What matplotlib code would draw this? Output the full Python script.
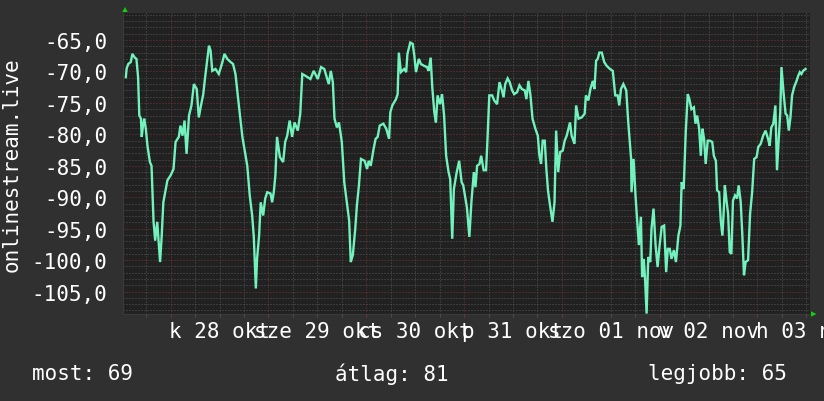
import matplotlib
matplotlib.use("Agg")
import matplotlib.pyplot as plt
from matplotlib.patches import Polygon
from matplotlib.ticker import MultipleLocator, FixedLocator
import numpy as np

# ---- data (hours since 28 Oct 00:00, signal level) ----
hours = [
    -11.0, -10.8, -10.4, -9.8, -9.4, -8.8, -8.4, -8.0, -7.7, -7.3, -7.1, -6.8, -6.5, -6.1, -5.7, -5.1, -4.7,
    -4.2, -3.8, -3.3, -2.6, -2.2, -1.8, -1.2, -0.8, 0.0, 0.7, 1.2, 2.0, 2.4, 2.9, 3.4, 3.9, 4.5, 5.1, 5.7,
    6.4, 6.9, 7.5, 8.0, 8.4, 8.8, 9.4, 9.8, 10.2, 11.0, 11.8, 12.2, 12.7, 13.2, 13.9, 14.7, 15.3, 15.9, 16.7,
    17.6, 18.4, 18.8, 19.4, 20.0, 20.4, 20.9, 21.2, 21.7, 22.1, 22.7, 23.2, 23.7, 24.5, 24.9, 25.3, 25.7,
    26.1, 26.8, 27.6, 28.1, 28.6, 29.2, 29.8, 30.4, 31.2, 31.8, 32.3, 33.1, 34.3, 35.1, 36.1, 36.9, 37.7,
    38.8, 39.3, 39.8, 40.2, 40.8, 41.3, 42.0, 42.6, 43.1, 43.8, 44.2, 44.7, 45.3, 45.7, 46.2, 46.7, 47.6,
    48.2, 48.6, 49.1, 49.8, 50.3, 50.8, 51.3, 52.2, 52.9, 53.6, 53.9, 54.4, 55.3, 55.7, 56.0, 56.5, 57.3,
    57.8, 58.1, 58.8, 59.4, 59.8, 60.2, 60.9, 61.4, 62.2, 62.9, 63.3, 63.8, 64.2, 64.7, 65.1, 65.5, 66.1,
    66.6, 67.1, 67.6, 68.2, 68.6, 69.1, 69.5, 70.2, 70.8, 71.4, 71.8, 72.7, 73.3,
    73.8, 74.4, 74.8, 75.2, 75.8, 76.2, 76.8, 77.4, 77.7, 78.2, 78.9, 79.4, 80.1, 80.7, 81.3, 81.7, 82.1,
    82.7, 83.2, 83.8, 84.3, 85.0, 85.6, 86.2, 86.9, 87.3, 87.8, 88.3, 88.8, 89.5, 90.1, 90.5, 90.9, 91.3,
    91.8, 92.2, 92.6, 93.1, 93.7, 94.2, 94.6, 95.1, 95.6, 96.2, 96.7, 97.2, 98.0, 98.4, 99.1, 99.5, 100.1,
    100.9, 101.6, 101.9, 102.5, 103.0, 103.6, 104.0, 104.4, 104.8, 105.2, 105.8, 106.4, 107.0, 107.8,
    108.5, 109.1, 109.7, 110.1, 110.5, 111.1, 111.8, 112.3, 113.0, 113.1, 113.6, 114.1, 114.5, 114.9,
    115.4, 115.7, 116.1, 116.4, 116.8, 117.2, 117.7, 118.0, 118.5, 119.0, 119.5, 119.9, 120.5, 121.1,
    121.6, 122.0, 122.5, 122.9, 123.5, 124.0, 124.6, 125.1, 125.4, 125.9, 126.4, 126.9, 127.3, 127.8,
    128.4, 128.8, 129.2, 129.7, 130.1, 130.5, 130.9, 131.3, 131.8, 132.3, 132.9, 133.3, 133.8, 134.1,
    134.6, 135.0, 135.4, 135.7, 136.0, 136.4, 136.8, 137.2, 137.6, 138.0, 138.5, 139.0, 139.4, 139.9,
    140.3, 140.7, 141.1, 141.7, 142.2, 142.7, 143.2, 143.8, 144.2, 144.8, 145.4, 146.0, 146.6, 147.0,
    147.4, 147.9, 148.4, 148.8, 149.3, 149.6, 149.9, 150.4, 150.9, 151.3, 151.7, 152.1, 152.5, 153.0,
    153.6, 154.0, 154.4, 154.8, 155.2, 155.8,
]
values = [
    -70.9, -69.5, -68.8, -68.5, -67.2, -67.8, -68.0, -70.9, -77.0, -77.5, -80.4, -78.6, -77.5, -79.1, -81.8, -84.4, -85.0,
    -93.9, -96.9, -93.9, -100.3, -96.1, -90.8, -88.7, -87.3, -86.5, -85.5, -81.2, -80.4, -78.6, -80.2, -77.8, -83.1, -77.0, -75.4, -72.0,
    -72.8, -77.3, -75.2, -73.6, -71.2, -69.1, -65.9, -66.7, -69.9, -69.6, -70.4, -69.6, -68.5, -67.2, -68.0, -68.5, -68.8, -70.4, -75.2,
    -80.4, -83.4, -85.0, -89.7, -92.9, -96.3, -104.5, -99.8, -96.1, -90.8, -92.9, -90.2, -89.2, -89.4, -90.8, -89.2, -86.5,
    -80.4, -83.6, -84.4, -81.2, -80.2, -77.8, -80.4, -78.1, -79.4, -76.7, -70.4, -70.7, -71.2, -69.9, -71.2, -69.3, -69.6,
    -72.0, -69.9, -71.7, -77.5, -78.9, -78.1, -81.2, -87.6, -90.2, -93.7, -100.3, -99.2, -95.0, -91.3, -88.1, -83.9, -84.2,
    -85.5, -84.2, -85.0, -82.3, -80.7, -80.4, -78.6, -78.3, -79.1, -80.7, -76.5, -75.4, -74.4, -73.6, -67.0, -70.1, -69.6,
    -70.1, -67.2, -65.4, -65.6, -67.5, -70.1, -68.0, -68.8, -69.1, -69.3, -69.9, -67.8, -72.5, -76.5, -78.1, -73.8, -75.2,
    -73.6, -77.0, -83.4, -86.0, -87.1, -96.6, -88.7, -86.0, -84.2, -87.6, -88.1, -91.6, -96.3,
    -90.8, -86.0, -88.4, -85.0, -84.7, -83.4, -85.7, -85.7, -81.5, -73.8, -73.8, -74.6, -75.2, -71.7, -73.0, -74.1, -72.0,
    -71.1, -71.7, -73.0, -73.6, -73.3, -72.2, -72.8, -73.0, -74.4, -71.5, -73.8, -77.5, -79.1, -80.2, -83.4, -84.7, -81.0,
    -81.0, -85.5, -88.9, -91.3, -93.9, -90.8, -79.4, -86.0, -82.8, -82.6, -81.0, -80.2, -78.1, -80.2, -81.5, -75.4, -77.5,
    -77.3, -76.7, -73.8, -74.6, -72.8, -71.5, -72.8, -68.3, -68.0, -67.0, -67.0, -68.5, -69.1, -69.6,
    -69.9, -73.8, -73.8, -75.4, -72.8, -72.0, -73.0, -78.1, -83.9, -89.2, -83.9, -90.0, -93.9, -97.6,
    -93.1, -102.7, -99.8, -102.7, -108.5, -99.5, -100.3, -95.0, -91.8, -97.6, -101.1, -98.2, -94.7, -94.5,
    -101.9, -98.2, -98.2, -99.8, -98.4, -100.3, -96.1, -94.5, -87.6, -88.7, -79.7, -73.6, -74.4, -76.0,
    -75.7, -78.3, -77.0, -79.1, -83.4, -79.1, -80.7, -84.7, -81.0, -81.0, -81.2, -83.4, -84.2, -88.9,
    -89.2, -93.7, -96.1, -92.6, -88.1, -90.5, -92.6, -98.7, -99.0, -90.5, -89.7, -90.2, -88.1, -90.8,
    -96.1, -102.4, -100.3, -100.0, -92.6, -89.2, -83.9, -83.6, -82.0, -81.5, -80.2, -79.4, -80.7, -81.8,
    -78.9, -78.3, -75.4, -85.7, -79.9, -76.5, -69.3, -73.3, -76.7, -77.0, -79.4, -77.3, -73.8, -72.5,
    -71.5, -70.7, -70.1, -70.4, -69.9, -69.6,
]

y_ticks = [-65, -70, -75, -80, -85, -90, -95, -100, -105]
y_tick_labels = ["-65,0", "-70,0", "-75,0", "-80,0", "-85,0", "-90,0", "-95,0", "-100,0", "-105,0"]
day_label_hours = [12, 36, 60, 84, 108, 132, 156]
day_labels = ["k 28 okt", "sze 29 okt", "cs 30 okt", "p 31 okt", "szo 01 nov", "v 02 nov", "h 03 nov"]
y_title = "onlinestream.live"
legend_texts = ["most: 69", "átlag: 81", "legjobb: 65"]

# ---- style ----
W, H = 824, 402
BG = "#303030"
PLOT_BG = "#212121"
LINE = "#72f2bc"
MINOR = "#555555"
MAJOR = "#7a3434"
TXT = "#ffffff"
ARROW = "#10d010"
FONT = "DejaVu Sans Mono"
FS = 15

fig = plt.figure(figsize=(W / 100, H / 100), dpi=100, facecolor=BG)
L, R, T, B = 123, 810, 14, 315
ax = fig.add_axes([L / W, (H - B) / H, (R - L) / W, (B - T) / H])
ax.set_facecolor(PLOT_BG)

ax.set_xlim(-11.7, 156.9)
ax.set_ylim(-108.56, -60.7)

# grid
ax.yaxis.set_major_locator(FixedLocator(y_ticks))
ax.yaxis.set_minor_locator(MultipleLocator(1))
ax.xaxis.set_major_locator(MultipleLocator(24))
ax.xaxis.set_minor_locator(MultipleLocator(6))
ax.grid(which="minor", color=MINOR, linestyle=(0, (1, 2)), linewidth=0.72)
ax.grid(which="major", color=MAJOR, linestyle=(0, (1, 2)), linewidth=0.72)
ax.set_axisbelow(True)

ax.set_yticklabels(y_tick_labels, fontfamily=FONT, fontsize=FS, color=TXT)
ax.tick_params(axis="y", which="both", length=0, pad=11.5)
ax.tick_params(axis="x", which="major", length=2.5, color=MAJOR, labelbottom=False, direction="out")
ax.tick_params(axis="x", which="minor", length=2.5, color=MINOR, direction="out")

for s in ["top", "right"]:
    ax.spines[s].set_visible(False)
for s in ["left", "bottom"]:
    ax.spines[s].set_color("#3a3a3a")
    ax.spines[s].set_linewidth(0.8)

# day labels centred on noon
xt = ax.get_xaxis_transform()
for hx, lab in zip(day_label_hours, day_labels):
    ax.text(hx, -0.0775, lab, transform=xt, ha="center", va="baseline",
            fontfamily=FONT, fontsize=FS, color=TXT, clip_on=False)

# data line
ax.plot(hours, values, color=LINE, linewidth=1.7, solid_joinstyle="miter", clip_on=True)

# y title
fig.text(12 / W, 1 - 165 / H, y_title, rotation=90, ha="center", va="center",
         fontfamily=FONT, fontsize=FS, color=TXT)

# legend line
for xpix, t in zip([32, 335, 648], legend_texts):
    fig.text(xpix / W, 1 - 374 / H, t, ha="left", va="center",
             fontfamily=FONT, fontsize=FS, color=TXT)

# rrdtool style arrows
up = [(122.3, 13.0), (127.7, 13.0), (125.0, 8.0)]
right = [(811.0, 312.3), (811.0, 317.7), (816.5, 315.0)]
for tri in (up, right):
    fig.patches.append(Polygon([(x / W, 1 - y / H) for x, y in tri], closed=True,
                               transform=fig.transFigure, facecolor=ARROW, edgecolor="none"))

fig.savefig("out.png", dpi=100, facecolor=BG)
